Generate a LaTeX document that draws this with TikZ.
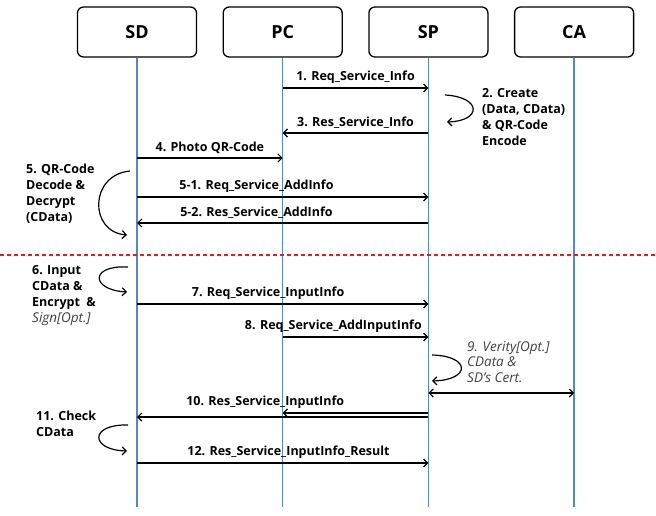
\documentclass[tikz,border=0pt]{standalone}
\usepackage{fontspec}
\setmainfont{Open Sans}
\usetikzlibrary{positioning, arrows.meta}

\definecolor{lifeblue}{RGB}{86,135,196}
\definecolor{sepred}{RGB}{226,30,36}
\definecolor{optgray}{RGB}{64,64,64}

\tikzset{
  actor/.style={draw, rounded corners=6pt, line width=1.3pt, minimum width=119pt, minimum height=50pt, font=\fontsize{18}{18}\selectfont\bfseries},
  life/.style={draw=lifeblue, line width=1.3pt},
  msg/.style={-{Straight Barb[length=4pt,width=8pt]}, line width=1.2pt},
  lbl/.style={above=2.5pt, inner sep=1pt, font=\fontsize{12.5}{12.5}\selectfont\bfseries},
  note/.style={anchor=north west, align=left, inner sep=0pt, font=\fontsize{12.5}{16}\selectfont\bfseries},
  optnote/.style={note, font=\fontsize{13.5}{15.5}\selectfont\itshape, text=optgray},
  sep/.style={draw=sepred, line width=1.2pt, dash pattern=on 4pt off 3pt},
}

\begin{document}
\begin{tikzpicture}[x=1pt, y=-1pt, node distance=25.4pt]
\useasboundingbox (0,0) rectangle (656,516);

\node[actor] (SD) at (137,32) {SD};
\node[actor, right=of SD] (PC) {PC};
\node[actor, right=of PC] (SP) {SP};
\node[actor, right=of SP] (CA) {CA};

% lifelines
\coordinate (bottom) at (0,507);
\foreach \a in {SD,PC,SP,CA}
  \draw[life] (\a.south) -- (\a.south |- bottom);

% message rows
\foreach \n/\y in {m1/88, m3/133, m4/158, m51/197, m52/223, m7/304, m8/337, m9/393, m10a/413, m10/417, m12/463}
  \coordinate (\n) at (0,\y);

\draw[msg] (PC |- m1) -- node[lbl] {1. Req\_Service\_Info} (SP |- m1);
\draw[msg] (445,95) .. controls (482,97) and (482,121) .. (447,122);
\node[note] (n2) at (482,88) {2. Create\\(Data, CData)\\\& QR-Code\\Encode};
\draw[msg] (SP |- m3) -- node[lbl] {3. Res\_Service\_Info} (PC |- m3);
\draw[msg] (SD |- m4) -- node[lbl] {4. Photo QR-Code} (PC |- m4);

\draw[msg] (130,171) .. controls (89,175) and (89,232) .. (127,235);
\node[note] (n5) at (26,164) {5. QR-Code\\Decode \&\\Decrypt\\(CData)};
\draw[msg] (SD |- m51) -- node[lbl, pos=0.41] {5-1. Req\_Service\_AddInfo} (SP |- m51);
\draw[msg] (SP |- m52) -- node[lbl, pos=0.59] {5-2. Res\_Service\_AddInfo} (SD |- m52);

% separator
\coordinate (sepL) at (0,255);
\coordinate (sepR) at (656,255);
\draw[sep] (sepL) -- (sepR);

\draw[msg] (128,267) .. controls (89,265) and (91,290) .. (127,292);
\node[note] (n6) at (32,265) {6. Input\\CData \&\\Encrypt~~\&\\{\mdseries\itshape\fontsize{13.5}{16}\selectfont\color{optgray}Sign[Opt.]}};
\draw[msg] (SD |- m7) -- node[lbl, pos=0.45] {7. Req\_Service\_InputInfo} (SP |- m7);
\draw[msg] (PC |- m8) -- node[lbl, pos=1, anchor=south east, xshift=-5pt] {8. Req\_Service\_AddInputInfo} (SP |- m8);

\draw[msg] (432,355) .. controls (471,356) and (471,380) .. (432,381);
\node[optnote] (n9) at (467,341) {9. Verity[Opt.]\\CData \&\\SD's Cert.};
\draw[{Straight Barb[length=4pt,width=8pt]}-{Straight Barb[length=4pt,width=8pt]}, line width=1.2pt] (SP |- m9) -- (CA |- m9);

\draw[msg] (SP |- m10a) -- (PC |- m10a);
\draw[msg] (SP |- m10) -- node[lbl, pos=0.56, above=7pt] {10. Res\_Service\_InputInfo} (SD |- m10);

\draw[msg] (128,425) .. controls (89,424) and (90,450) .. (127,451);
\node[note] (n11) at (36,411) {11. Check\\CData};
\draw[msg] (SD |- m12) -- node[lbl, pos=0.52] {12. Res\_Service\_InputInfo\_Result} (SP |- m12);
\end{tikzpicture}
\end{document}
